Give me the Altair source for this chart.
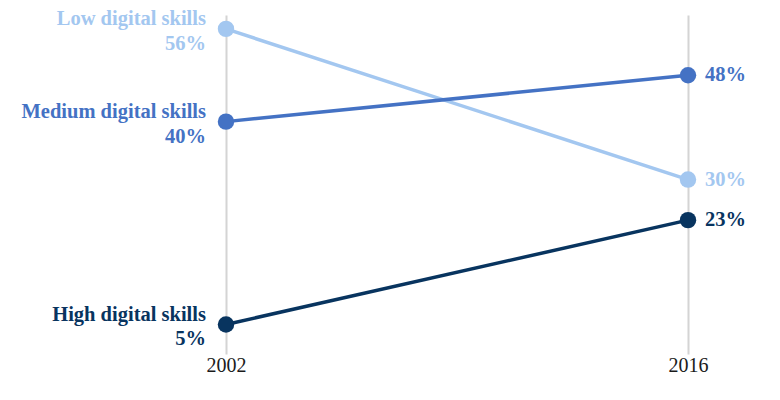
import altair as alt
import pandas as pd

categories = ["Low digital skills", "Medium digital skills", "High digital skills"]
years = [2002, 2016]
values_2002 = [56, 40, 5]
values_2016 = [30, 48, 23]
colors = ["#a3c7f0", "#4472c4", "#08345f"]

rows = []
for c, v1, v2 in zip(categories, values_2002, values_2016):
    rows.append({"skill": c, "year": years[0], "value": v1, "pct": f"{v1}%"})
    rows.append({"skill": c, "year": years[1], "value": v2, "pct": f"{v2}%"})
df = pd.DataFrame(rows)

FONT = "Liberation Serif"

x = alt.X("year:Q", scale=alt.Scale(domain=years, nice=False, zero=False),
          axis=alt.Axis(values=years, format="d", title=None, domain=False, ticks=False,
                        grid=True, gridColor="#d4d4d4", gridWidth=2,
                        labelFont=FONT, labelFontSize=20, labelColor="#1a1a1a",
                        labelPadding=1, labelFlush=False))
y = alt.Y("value:Q", scale=alt.Scale(domain=[-0.1, 58.4], nice=False, zero=False),
          axis=None)
color = alt.Color("skill:N", scale=alt.Scale(domain=categories, range=colors), legend=None)

base = alt.Chart(df).encode(x=x, y=y, color=color)

lines = base.mark_line(strokeWidth=3.5)
points = base.mark_circle(size=270, opacity=1)

left = base.transform_filter(alt.datum.year == years[0])
right = base.transform_filter(alt.datum.year == years[1])

left_name = left.mark_text(align="right", baseline="middle", dx=-20, dy=-9.5,
                           font=FONT, fontSize=20.5, fontWeight="bold").encode(text="skill:N")
left_pct = left.mark_text(align="right", baseline="middle", dx=-20, dy=15,
                          font=FONT, fontSize=20.5, fontWeight="bold").encode(text="pct:N")
right_pct = right.mark_text(align="left", baseline="middle", dx=17, dy=0,
                            font=FONT, fontSize=20.5, fontWeight="bold").encode(text="pct:N")

chart = alt.layer(lines, points, left_name, left_pct, right_pct).properties(
    width=462, height=339,
    autosize=alt.AutoSizeParams(type="none"),
    padding={"left": 218, "top": 7, "right": 80, "bottom": 34},
).configure_view(stroke=None)

chart.save("out.html", embed_options={"renderer": "svg", "actions": False})
